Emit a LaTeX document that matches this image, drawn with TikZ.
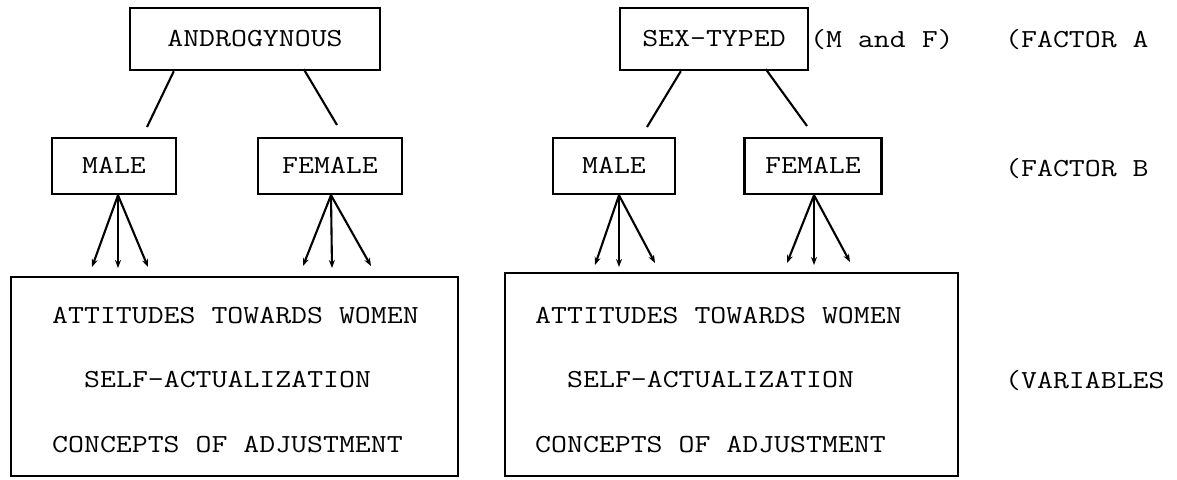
\documentclass[tikz,border=0pt]{standalone}
\usepackage{fontspec}
\usepackage{graphicx}
\usetikzlibrary{arrows.meta,calc}
\newcommand{\twtext}[1]{\scalebox{1.19}[1]{#1}}
\tikzset{
  tw/.style={font=\ttfamily\fontsize{26}{30}\selectfont\addfontfeatures{FakeBold=1.4}},
  box/.style={draw, line width=2.4pt, tw, inner sep=0pt, text height=15pt, text depth=0pt, align=center},
  bigbox/.style={draw, line width=2.4pt, inner sep=0pt},
  lbl/.style={tw, anchor=base west, inner sep=0pt},
  link/.style={line width=2.1pt},
  arr/.style={line width=2.1pt, -{Stealth[length=8pt,width=6pt]}}
}
\begin{document}
\begin{tikzpicture}[x=1pt,y=-1pt]
\useasboundingbox (0,0) rectangle (1177,479);
\fill[white] (0,0) rectangle (1177,479);
% Factor A
\node[box, minimum width=250pt, minimum height=62pt] (andro) at (255,39) {\twtext{ANDROGYNOUS}};
\node[box, minimum width=188pt, minimum height=62pt] (sex) at (714,39) {\twtext{SEX-TYPED}};
\node[lbl] (mf) at (810,47) {\twtext{(M and F)}};
\node[lbl] (fa) at (1005,47) {\twtext{(FACTOR A}};
% Factor B
\node[box, minimum width=124pt, minimum height=56pt] (lm) at (114,166) {\twtext{MALE}};
\node[box, minimum width=144pt, minimum height=56pt] (lf) at (330,166) {\twtext{FEMALE}};
\node[box, minimum width=122pt, minimum height=56pt] (rm) at (614,166) {\twtext{MALE}};
\node[box, minimum width=137pt, minimum height=56pt] (rf) at (813,166) {\twtext{FEMALE}};
\node[lbl] (fb) at (1005,176) {\twtext{(FACTOR B}};
% Variables boxes
\node[bigbox, minimum width=447pt, minimum height=199pt] (lbox) at (234.5,376.5) {};
\node[bigbox, minimum width=453pt, minimum height=203pt] (rbox) at (731.5,374.5) {};
\node[lbl] (l1) at (52,323) {\twtext{ATTITUDES TOWARDS WOMEN}};
\node[lbl] (l2) at (84,387) {\twtext{SELF-ACTUALIZATION}};
\node[lbl] (l3) at (52,452) {\twtext{CONCEPTS OF ADJUSTMENT}};
\node[lbl] (r1) at (535,323) {\twtext{ATTITUDES TOWARDS WOMEN}};
\node[lbl] (r2) at (567,387) {\twtext{SELF-ACTUALIZATION}};
\node[lbl] (r3) at (535,452) {\twtext{CONCEPTS OF ADJUSTMENT}};
\node[lbl] (fv) at (1005,388) {\twtext{(VARIABLES}};
% Factor A to B links
\coordinate (a1) at (147,127);
\coordinate (a2) at (337,125);
\coordinate (s1) at (647,127);
\coordinate (s2) at (807,126);
\draw[link] ($(andro.south west)+(45,0)$) -- (a1);
\draw[link] ($(andro.south west)+(175,-2)$) -- (a2);
\draw[link] ($(sex.south west)+(62,0)$) -- (s1);
\draw[link] ($(sex.south west)+(147,-2)$) -- (s2);
% arrows to variables
\coordinate (lmo) at ($(lm.south)+(4,0)$);
\coordinate (lfo) at ($(lf.south)+(1,0)$);
\coordinate (rmo) at ($(rm.south)+(5,0)$);
\coordinate (rfo) at ($(rf.south)+(1,0)$);
\coordinate (lm1) at (92,267); \coordinate (lm2) at (118,268); \coordinate (lm3) at (148,267);
\coordinate (lf1) at (303,266); \coordinate (lf2) at (332,268); \coordinate (lf3) at (371,266);
\coordinate (rm1) at (595,265); \coordinate (rm2) at (619,267); \coordinate (rm3) at (655,263);
\coordinate (rf1) at (787,263); \coordinate (rf2) at (814,265); \coordinate (rf3) at (850,262);
\draw[arr] (lmo) -- (lm1); \draw[arr] (lmo) -- (lm2); \draw[arr] (lmo) -- (lm3);
\draw[arr] (lfo) -- (lf1); \draw[arr] (lfo) -- (lf2); \draw[arr] (lfo) -- (lf3);
\draw[arr] (rmo) -- (rm1); \draw[arr] (rmo) -- (rm2); \draw[arr] (rmo) -- (rm3);
\draw[arr] (rfo) -- (rf1); \draw[arr] (rfo) -- (rf2); \draw[arr] (rfo) -- (rf3);
\end{tikzpicture}
\end{document}
